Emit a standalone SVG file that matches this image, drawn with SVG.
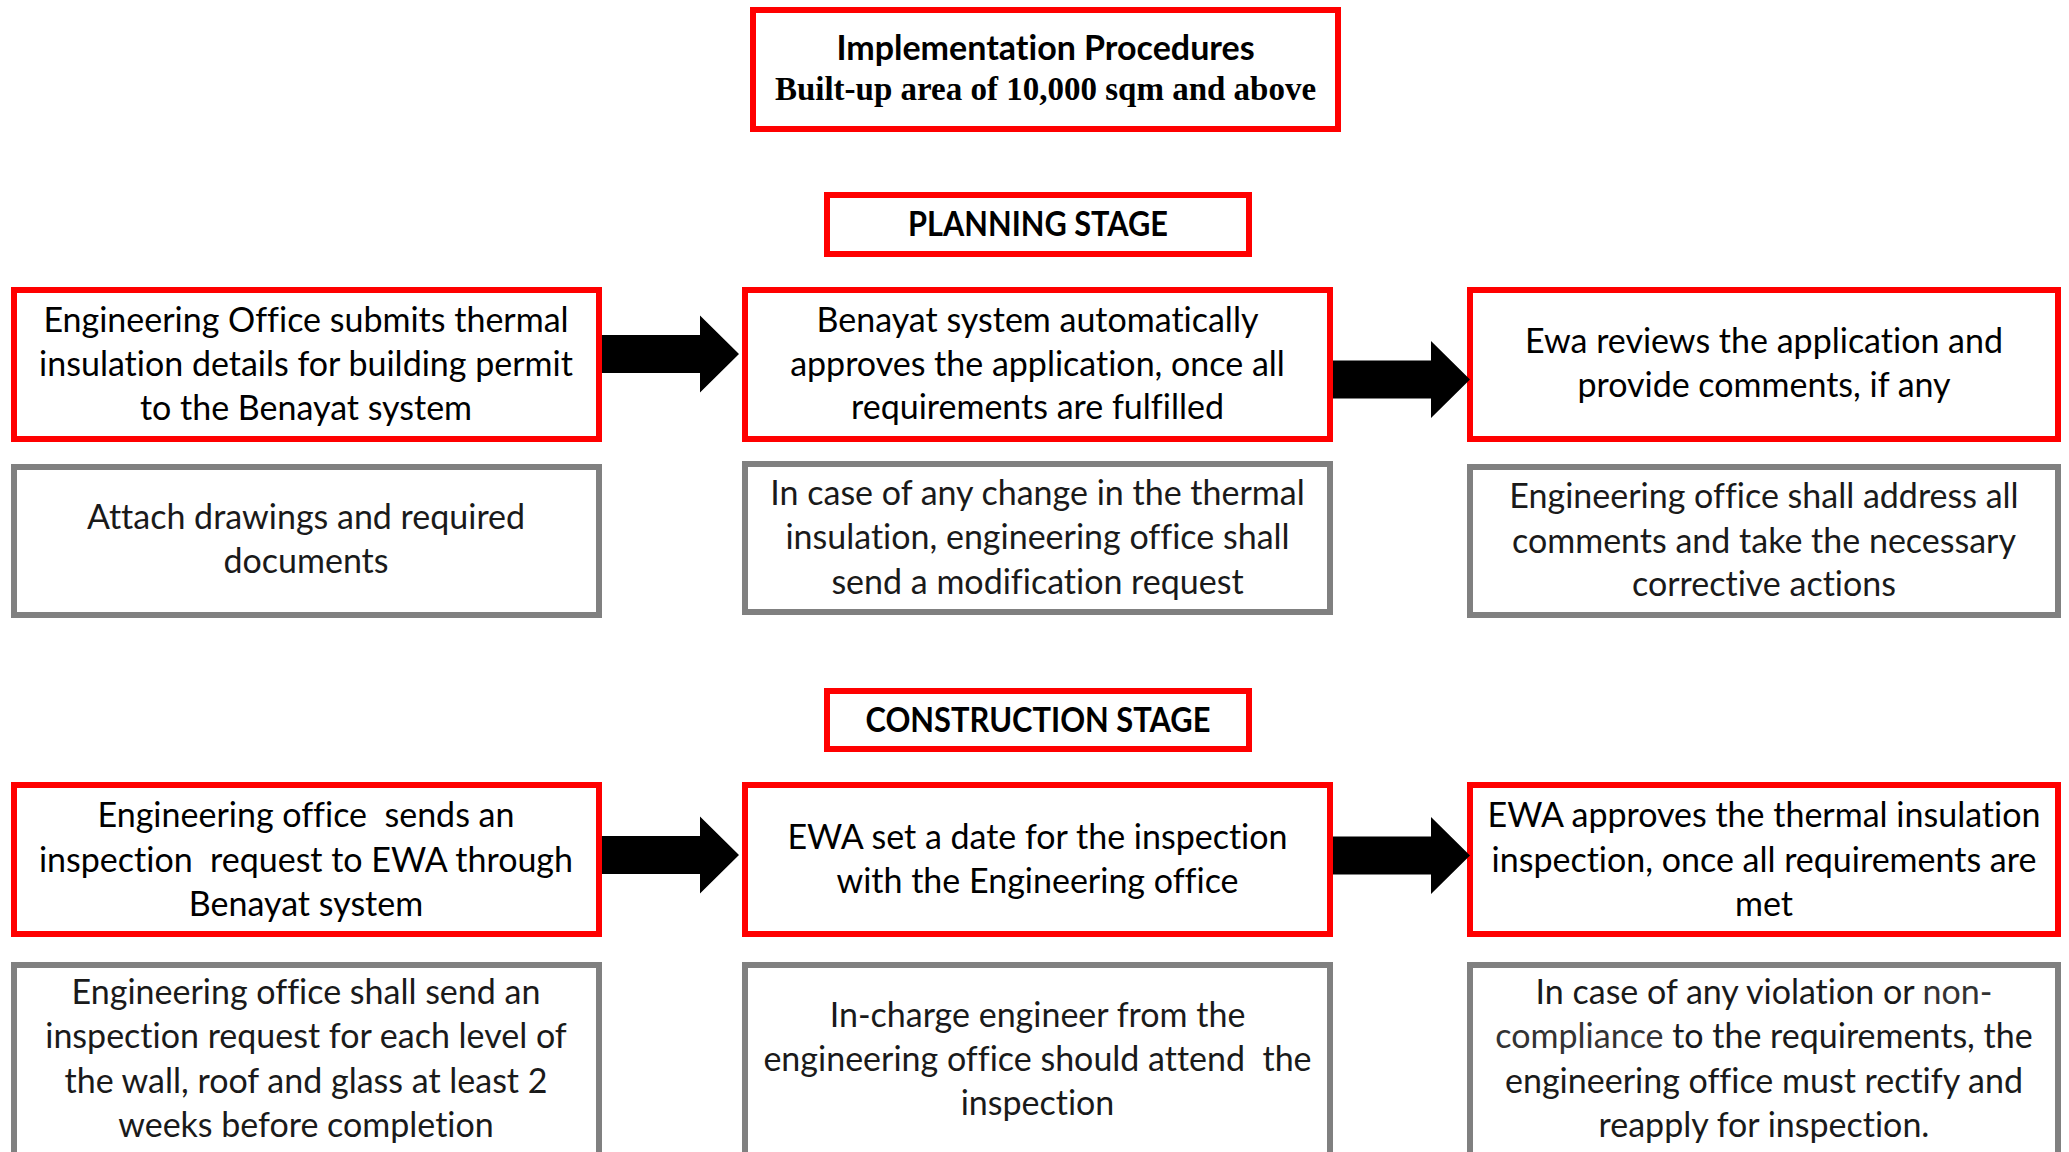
<svg xmlns="http://www.w3.org/2000/svg" xmlns:xlink="http://www.w3.org/1999/xlink" width="2069" height="1152" viewBox="0 0 2069 1152">
<style>
.bg{fill:#ffffff}
.red{fill:#ffffff;stroke:#ff0000;stroke-width:6}
.gray{fill:#ffffff;stroke:#808080;stroke-width:6}
text{font-variant-ligatures:none}
.t{font-family:Lato,"Liberation Sans",sans-serif;font-size:34px;text-anchor:middle;fill:#000000}
.tg{font-family:Lato,"Liberation Sans",sans-serif;font-size:34px;text-anchor:middle;fill:#1a1a1a}
.h{font-family:Lato,"Liberation Sans",sans-serif;font-size:34px;font-weight:bold;text-anchor:middle;fill:#000000}
.hs{font-family:Lato,"Liberation Sans",sans-serif;font-size:34px;font-weight:bold;text-anchor:middle;fill:#000000}
.s{font-family:"Liberation Serif","Times New Roman",serif;font-size:33px;font-weight:bold;text-anchor:middle;fill:#000000}
.arrow{fill:#000000}
</style>
<defs>
<path id="blockArrow" d="M0,-19 H98 V-38.5 L137,0 L98,38.5 V19 H0 Z"/>
</defs>
<rect class="bg" x="0" y="0" width="2069" height="1152"/>

<g id="title">
<rect class="red" x="753" y="10" width="585" height="119"/>
<text class="h" x="1045.5" y="60">Implementation Procedures</text>
<text class="s" x="1045.5" y="100">Built-up area of 10,000 sqm and above</text>
</g>

<g id="planning-stage">
<rect class="red" x="827" y="195" width="422" height="59"/>
<text class="hs" x="1038" y="236" textLength="260" lengthAdjust="spacingAndGlyphs">PLANNING STAGE</text>
</g>

<g id="p1">
<rect class="red" x="14" y="290" width="585" height="149"/>
<text class="t" x="306" y="332">Engineering Office submits thermal</text>
<text class="t" x="306" y="376">insulation details for building permit</text>
<text class="t" x="306" y="420">to the Benayat system</text>
</g>
<g id="p1-note">
<rect class="gray" x="14" y="467" width="585" height="148"/>
<text class="tg" x="306" y="529">Attach drawings and required</text>
<text class="tg" x="306" y="573">documents</text>
</g>

<g id="p2">
<rect class="red" x="745" y="290" width="585" height="149"/>
<text class="t" x="1037.5" y="332">Benayat system automatically</text>
<text class="t" x="1037.5" y="376">approves the application, once all</text>
<text class="t" x="1037.5" y="419">requirements are fulfilled</text>
</g>
<g id="p2-note">
<rect class="gray" x="745" y="464" width="585" height="148"/>
<text class="tg" x="1037.5" y="505">In case of any change in the thermal</text>
<text class="tg" x="1037.5" y="549">insulation, engineering office shall</text>
<text class="tg" x="1037.5" y="594">send a modification request</text>
</g>

<g id="p3">
<rect class="red" x="1470" y="290" width="588" height="149"/>
<text class="t" x="1764" y="353">Ewa reviews the application and</text>
<text class="t" x="1764" y="397">provide comments, if any</text>
</g>
<g id="p3-note">
<rect class="gray" x="1470" y="467" width="588" height="148"/>
<text class="tg" x="1764" y="508">Engineering office shall address all</text>
<text class="tg" x="1764" y="553">comments and take the necessary</text>
<text class="tg" x="1764" y="596">corrective actions</text>
</g>

<g id="construction-stage">
<rect class="red" x="827" y="691" width="422" height="58"/>
<text class="hs" x="1038" y="732" textLength="345" lengthAdjust="spacingAndGlyphs">CONSTRUCTION STAGE</text>
</g>

<g id="c1">
<rect class="red" x="14" y="785" width="585" height="149"/>
<text class="t" x="306" y="827" xml:space="preserve">Engineering office  sends an</text>
<text class="t" x="306" y="872" xml:space="preserve">inspection  request to EWA through</text>
<text class="t" x="306" y="916">Benayat system</text>
</g>
<g id="c1-note">
<rect class="gray" x="14" y="965" width="585" height="220"/>
<text class="tg" x="306" y="1004">Engineering office shall send an</text>
<text class="tg" x="306" y="1048">inspection request for each level of</text>
<text class="tg" x="306" y="1093">the wall, roof and glass at least 2</text>
<text class="tg" x="306" y="1137">weeks before completion</text>
</g>

<g id="c2">
<rect class="red" x="745" y="785" width="585" height="149"/>
<text class="t" x="1037.5" y="849">EWA set a date for the inspection</text>
<text class="t" x="1037.5" y="893">with the Engineering office</text>
</g>
<g id="c2-note">
<rect class="gray" x="745" y="965" width="585" height="220"/>
<text class="tg" x="1037.5" y="1027">In-charge engineer from the</text>
<text class="tg" x="1037.5" y="1071" xml:space="preserve">engineering office should attend  the</text>
<text class="tg" x="1037.5" y="1115">inspection</text>
</g>

<g id="c3">
<rect class="red" x="1470" y="785" width="588" height="149"/>
<text class="t" x="1764" y="827">EWA approves the thermal insulation</text>
<text class="t" x="1764" y="872">inspection, once all requirements are</text>
<text class="t" x="1764" y="916">met</text>
</g>
<g id="c3-note">
<rect class="gray" x="1470" y="965" width="588" height="220"/>
<text class="tg" x="1764" y="1004">In case of any violation or <tspan fill="#333333">non-</tspan></text>
<text class="tg" x="1764" y="1048"><tspan fill="#333333">compliance</tspan> to the requirements, the</text>
<text class="tg" x="1764" y="1093">engineering office must rectify and</text>
<text class="tg" x="1764" y="1137">reapply for inspection.</text>
</g>

<g id="connectors">
<use xlink:href="#blockArrow" class="arrow" transform="translate(602,354)"/>
<use xlink:href="#blockArrow" class="arrow" transform="translate(1333,379.5)"/>
<use xlink:href="#blockArrow" class="arrow" transform="translate(602,855)"/>
<use xlink:href="#blockArrow" class="arrow" transform="translate(1333,855.5)"/>
</g>
</svg>
